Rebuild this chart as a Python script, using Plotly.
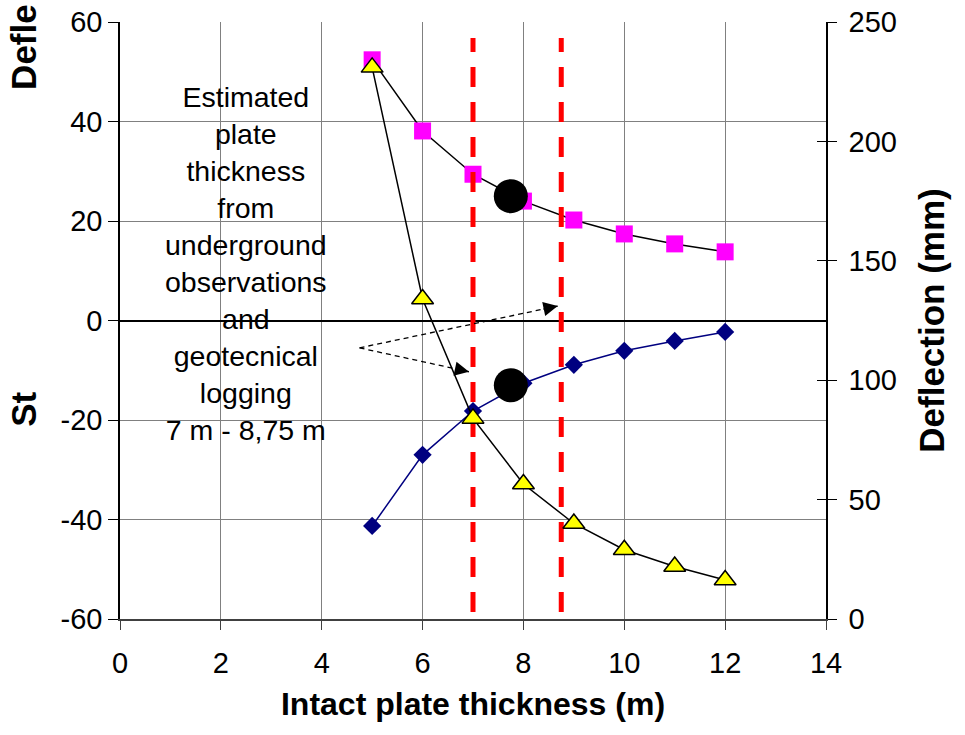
import plotly.graph_objects as go

# ---- data ----
thickness = [5, 6, 7, 8, 9, 10, 11, 12]
st_pink = [52.4, 38.1, 29.4, 24.0, 20.2, 17.4, 15.4, 13.8]
st_blue = [-41.3, -27.0, -18.2, -12.6, -8.9, -6.1, -4.1, -2.3]
deflection = [231, 134, 84, 56.5, 40, 29, 22, 16.3]
circle_x = [7.75, 7.75]
circle_y = [25, -13]
est_range = [7.0, 8.75]
est_line_y = [-58.6, 56.8]
arrow_tail = (4.75, -5.5)
arrow_tips = [(6.92, -10.3), (8.68, 2.9)]
note_lines = ["Estimated", "plate", "thickness", "from", "underground",
              "observations", "and", "geotecnical", "logging", "7 m - 8,75 m"]
x_ticks = [0, 2, 4, 6, 8, 10, 12, 14]
x_ticktext = ["0", "2", "4", "6", "8", "10", "12", "14"]
y_ticks = [-60, -40, -20, 0, 20, 40, 60]
y_ticktext = ["-60", "-40", "-20", "0", "20", "40", "60"]
y2_ticks = [0, 50, 100, 150, 200, 250]
y2_ticktext = ["0", "50", "100", "150", "200", "250"]

FONT = "Arial, 'Liberation Sans', sans-serif"
GRID = "#808080"

fig = go.Figure()

fig.add_trace(go.Scatter(x=thickness, y=st_pink, mode="lines+markers", yaxis="y",
                         line=dict(color="black", width=1.5),
                         marker=dict(symbol="square", size=17, color="#FF00FF")))
fig.add_trace(go.Scatter(x=thickness, y=deflection, mode="lines+markers", yaxis="y2",
                         line=dict(color="black", width=1.5),
                         marker=dict(symbol="triangle-up", size=19, color="#FFFF00",
                                     line=dict(color="black", width=1.5))))
fig.add_trace(go.Scatter(x=thickness, y=st_blue, mode="lines+markers", yaxis="y",
                         line=dict(color="#000080", width=1.5),
                         marker=dict(symbol="diamond", size=14, color="#000080")))

for xv in est_range:
    fig.add_trace(go.Scatter(x=[xv, xv], y=est_line_y, mode="lines", yaxis="y",
                             line=dict(color="#FF0000", width=5, dash="20px,15px")))

fig.add_trace(go.Scatter(x=circle_x, y=circle_y, mode="markers", yaxis="y",
                         marker=dict(symbol="circle", size=34, color="black")))

# dashed arrows
for tx, ty in arrow_tips:
    fig.add_trace(go.Scatter(x=[arrow_tail[0], tx], y=[arrow_tail[1], ty], mode="lines",
                             yaxis="y", line=dict(color="black", width=1.3, dash="5px,4px")))
    fig.add_annotation(x=tx, y=ty, xref="x", yref="y",
                       ax=tx - (tx - arrow_tail[0]) * 0.08, ay=ty - (ty - arrow_tail[1]) * 0.08,
                       axref="x", ayref="y", showarrow=True, arrowhead=2, arrowsize=2.2,
                       arrowwidth=1.3, arrowcolor="black", text="")

fig.add_annotation(x=2.5, y=11.5, xref="x", yref="y", showarrow=False,
                   text="<br>".join(note_lines), align="center",
                   font=dict(family=FONT, size=28.5, color="black"))

# left-side fragments of titles
fig.add_annotation(x=-0.136, y=0.352, xref="paper", yref="paper", showarrow=False,
                   text="St", textangle=-90, xanchor="center", yanchor="middle",
                   font=dict(family=FONT, size=35, color="black", weight="bold"))
fig.add_annotation(x=-0.136, y=1.032, xref="paper", yref="paper", showarrow=False,
                   text="Defle", textangle=-90, xanchor="center", yanchor="top",
                   borderpad=0,
                   font=dict(family=FONT, size=35, color="black", weight="bold"))

tickfont = dict(family=FONT, size=29, color="black")

fig.update_layout(
    width=965, height=735,
    margin=dict(l=120, r=139, t=22, b=116),
    paper_bgcolor="white", plot_bgcolor="white",
    showlegend=False,
    xaxis=dict(range=[0, 14], tickmode="array", tickvals=x_ticks, ticktext=x_ticktext,
               showgrid=True, gridcolor=GRID, gridwidth=1, automargin=False,
               zeroline=False, showline=True, linecolor="#404040", linewidth=1.5,
               ticks="outside", ticklen=9, tickcolor="#404040", tickwidth=1.2,
               ticklabelstandoff=8, tickfont=tickfont,
               title=dict(text="Intact plate thickness (m)", standoff=15,
                          font=dict(family=FONT, size=32, color="black", weight="bold"))),
    yaxis=dict(range=[-60, 60], tickmode="array", tickvals=y_ticks, ticktext=y_ticktext,
               showgrid=True, gridcolor=GRID, gridwidth=1, automargin=False,
               zeroline=True, zerolinecolor="black", zerolinewidth=1.5,
               showline=True, linecolor="black", linewidth=1.5,
               ticks="outside", ticklen=10, tickcolor="black", tickwidth=1.2,
               tickfont=tickfont),
    yaxis2=dict(range=[0, 250], tickmode="array", tickvals=y2_ticks, ticktext=y2_ticktext,
                overlaying="y", side="right", anchor="x", automargin=False,
                showgrid=False, zeroline=False, showline=True, linecolor="black", linewidth=1.5,
                ticks="outside", ticklen=9, tickcolor="black", tickwidth=1.2,
                ticklabelstandoff=6, tickfont=tickfont,
                title=dict(text="Deflection (mm)", standoff=24,
                           font=dict(family=FONT, size=35, color="black", weight="bold"))),
    yaxis3=dict(range=[0, 250], tickmode="array", tickvals=y2_ticks, overlaying="y",
                side="right", anchor="x", automargin=False,
                showgrid=False, zeroline=False, showline=False, showticklabels=False,
                ticks="inside", ticklen=9, tickcolor="black", tickwidth=1.2),
)

# invisible trace to activate yaxis3 (inside tick marks on the right axis)
fig.add_trace(go.Scatter(x=[0], y=[0], yaxis="y3", mode="markers",
                         marker=dict(opacity=0), hoverinfo="skip"))

fig.write_html("out.html")
